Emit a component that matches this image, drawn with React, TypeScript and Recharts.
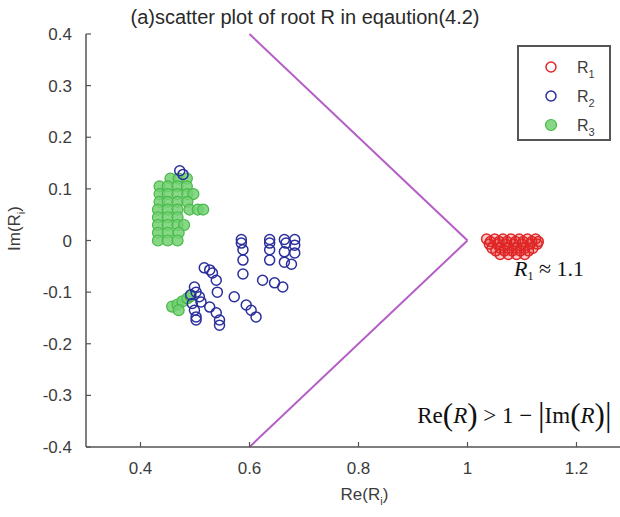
import React from "react";
import {
  ScatterChart,
  Scatter,
  XAxis,
  YAxis,
  ReferenceLine,
  ReferenceDot,
  Legend,
} from "recharts";

const SANS = '"Liberation Sans", Arial, sans-serif';
const SERIF = '"Liberation Serif", "Times New Roman", serif';

const xTicks = [0.4, 0.6, 0.8, 1, 1.2];
const yTicks = [-0.4, -0.3, -0.2, -0.1, 0, 0.1, 0.2, 0.3, 0.4];

// R1 (red)
const r1Re = [
  1.035, 1.05, 1.065, 1.08, 1.095, 1.11, 1.125,
  1.042, 1.058, 1.072, 1.088, 1.102, 1.118, 1.13,
  1.04, 1.055, 1.07, 1.085, 1.1, 1.115, 1.128,
  1.045, 1.06, 1.075, 1.09, 1.105, 1.12,
  1.052, 1.068, 1.082, 1.097, 1.112,
  1.06, 1.075, 1.09, 1.105,
];
const r1Im = [
  0.003, 0.003, 0.003, 0.003, 0.003, 0.003, 0.003,
  -0.002, -0.002, -0.002, -0.002, -0.002, -0.002, -0.002,
  -0.007, -0.007, -0.007, -0.007, -0.007, -0.007, -0.007,
  -0.015, -0.015, -0.015, -0.015, -0.015, -0.015,
  -0.02, -0.02, -0.02, -0.02, -0.02,
  -0.027, -0.027, -0.027, -0.027,
];

// R2 (blue)
const r2Re = [
  0.472, 0.478,
  0.585, 0.585, 0.588, 0.588, 0.588,
  0.637, 0.637, 0.637, 0.637,
  0.664, 0.667, 0.664, 0.664, 0.677,
  0.683, 0.683, 0.683,
  0.624, 0.646, 0.661,
  0.572, 0.594, 0.603, 0.612,
  0.517, 0.527, 0.532, 0.539, 0.541,
  0.499, 0.502, 0.508, 0.511,
  0.499, 0.502, 0.502,
  0.527, 0.539, 0.545, 0.545,
  0.492, 0.495,
];
const r2Im = [
  0.135, 0.128,
  0.002, -0.005, -0.018, -0.038, -0.065,
  0.002, -0.005, -0.018, -0.038,
  0.002, -0.005, -0.022, -0.042, -0.046,
  0.002, -0.009, -0.024,
  -0.077, -0.082, -0.09,
  -0.109, -0.125, -0.135, -0.148,
  -0.053, -0.057, -0.063, -0.077, -0.1,
  -0.09, -0.1, -0.109, -0.119,
  -0.135, -0.148, -0.154,
  -0.129, -0.14, -0.154, -0.164,
  -0.105, -0.122,
];

// R3 (green)
const r3Re = [
  0.455, 0.47, 0.485,
  0.435, 0.45, 0.468, 0.485,
  0.435, 0.45, 0.468, 0.486, 0.497,
  0.435, 0.45, 0.468, 0.486,
  0.432, 0.45, 0.468, 0.49, 0.505, 0.515,
  0.432, 0.45, 0.468,
  0.432, 0.45, 0.468, 0.48,
  0.432, 0.45, 0.47,
  0.432, 0.45, 0.468,
  0.458, 0.468, 0.477, 0.486, 0.492, 0.47,
];
const r3Im = [
  0.12, 0.12, 0.12,
  0.105, 0.105, 0.105, 0.105,
  0.09, 0.09, 0.09, 0.09, 0.09,
  0.075, 0.075, 0.075, 0.075,
  0.06, 0.06, 0.06, 0.06, 0.06, 0.06,
  0.045, 0.045, 0.045,
  0.03, 0.03, 0.03, 0.03,
  0.015, 0.015, 0.015,
  0, 0, 0,
  -0.128, -0.124, -0.118, -0.112, -0.108, -0.135,
];

// boundary Re(R) = 1 - |Im(R)|
const boundaryRe = [0.6, 1, 0.6];
const boundaryIm = [0.4, 0, -0.4];

const seriesNames = ["R1", "R2", "R3"];

const toPoints = (xs: number[], ys: number[]) => xs.map((x, i) => ({ x, y: ys[i] }));
const r1 = toPoints(r1Re, r1Im);
const r2 = toPoints(r2Re, r2Im);
const r3 = toPoints(r3Re, r3Im);

const RED = "#e02626";
const BLUE = "#2a2f9c";
const GREEN = "#47b847";
const GREEN_FILL = "#72d072";
const AXIS = "#555";
const TEXT = "#3c3c3c";

const hollow = (color: string) => (p: any) => (
  <circle cx={p.cx} cy={p.cy} r={5} fill="none" stroke={color} strokeWidth={1.5} />
);
const redDot = (p: any) => (
  <circle cx={p.cx} cy={p.cy} r={5} fill={RED} fillOpacity={0.25} stroke={RED} strokeWidth={1.5} />
);
const filled = (p: any) => (
  <circle cx={p.cx} cy={p.cy} r={5.5} fill={GREEN_FILL} fillOpacity={0.85} stroke={GREEN} strokeWidth={1.2} />
);

const XTick = ({ x, y, payload }: any) => (
  <g>
    <line x1={x} x2={x} y1={y} y2={y - 5} stroke={AXIS} strokeWidth={1.2} />
    <text x={x} y={y + 27} textAnchor="middle" fontSize={17} fill={TEXT} fontFamily={SANS}>
      {payload.value}
    </text>
  </g>
);

const YTick = ({ x, y, payload }: any) => (
  <g>
    <line x1={x} x2={x + 5} y1={y} y2={y} stroke={AXIS} strokeWidth={1.2} />
    <text x={x - 14} y={y + 6} textAnchor="end" fontSize={17} fill={TEXT} fontFamily={SANS}>
      {payload.value}
    </text>
  </g>
);

const XLabel = (props: any) => {
  const vb = props.viewBox;
  return (
    <text x={vb.x + vb.width / 2 + 6} y={vb.y + 53} textAnchor="middle" fontSize={17} fill={TEXT} fontFamily={SANS}>
      <tspan>Re(R</tspan>
      <tspan dy={5} fontSize={11}>i</tspan>
      <tspan dy={-5}>)</tspan>
    </text>
  );
};

const YLabel = (props: any) => {
  const vb = props.viewBox;
  const cx = vb.x - 6;
  const cy = vb.y + vb.height / 2 - 12;
  return (
    <text x={cx} y={cy} transform={`rotate(-90 ${cx} ${cy})`} textAnchor="middle" fontSize={17} fill={TEXT} fontFamily={SANS}>
      <tspan>Im(R</tspan>
      <tspan dy={5} fontSize={11}>i</tspan>
      <tspan dy={-5}>)</tspan>
    </text>
  );
};

const LegendBox = () => {
  const marks = [hollow(RED), hollow(BLUE), filled];
  return (
    <svg width={94} height={96} style={{ display: "block" }}>
      <rect x={1} y={1} width={92} height={94} fill="#fff" stroke={AXIS} strokeWidth={2} />
      {seriesNames.map((name, i) => (
        <g key={name}>
          {marks[i]({ cx: 34, cy: 22 + i * 29 })}
          <text x={60} y={22 + i * 29 + 6} fontSize={16} fill={TEXT} fontFamily={SANS}>
            {name.slice(0, 1)}
            <tspan dy={5} fontSize={11}>{name.slice(1)}</tspan>
          </text>
        </g>
      ))}
    </svg>
  );
};

const ApproxNote = (p: any) => (
  <text x={p.cx - 8} y={p.cy + 2} fontSize={22} fill="#111" fontFamily={SERIF}>
    <tspan fontStyle="italic">R</tspan>
    <tspan dy={4} fontSize={12}>1</tspan>
    <tspan dy={-4}> ≈ 1.1</tspan>
  </text>
);

const RegionNote = (p: any) => (
  <text x={p.cx + 35} y={p.cy + 2} textAnchor="end" fontSize={23} fill="#111" fontFamily={SERIF}>
    <tspan>Re</tspan>
    <tspan fontSize={31} dy={2}>(</tspan>
    <tspan fontStyle="italic" dy={-2}>R</tspan>
    <tspan fontSize={31} dy={2}>)</tspan>
    <tspan dy={-2}> &gt; 1 − </tspan>
    <tspan fontSize={33} dy={3}>|</tspan>
    <tspan dy={-3}>Im</tspan>
    <tspan fontSize={31} dy={2}>(</tspan>
    <tspan fontStyle="italic" dy={-2}>R</tspan>
    <tspan fontSize={31} dy={2}>)</tspan>
    <tspan fontSize={33} dy={1}>|</tspan>
  </text>
);

const App = () => {
  return (
    <div
      style={{
        position: "absolute",
        left: 0,
        top: 0,
        width: 620,
        height: 517,
        overflow: "hidden",
        background: "#fff",
      }}
    >
      <div
        style={{
          position: "absolute",
          left: 0,
          width: 610,
          top: 6,
          textAlign: "center",
          fontFamily: SANS,
          fontSize: 20,
          color: "#2a2a2a",
          zIndex: 2,
        }}
      >
        (a)scatter plot of root R in eqaution(4.2)
      </div>
      <ScatterChart width={660} height={517} margin={{ top: 34, right: 29, bottom: 30, left: 26 }}>
        <XAxis
          type="number"
          dataKey="x"
          domain={[0.3, 1.3]}
          ticks={xTicks}
          tickSize={0}
          tickMargin={0}
          tick={<XTick />}
          height={40}
          axisLine={{ stroke: AXIS, strokeWidth: 1.5 }}
          allowDataOverflow
          label={<XLabel />}
        />
        <YAxis
          type="number"
          dataKey="y"
          domain={[-0.4, 0.4]}
          ticks={yTicks}
          tickSize={0}
          tickMargin={0}
          tick={<YTick />}
          width={60}
          axisLine={{ stroke: AXIS, strokeWidth: 1.5 }}
          allowDataOverflow
          label={<YLabel />}
        />
        <ReferenceLine
          segment={[
            { x: boundaryRe[0], y: boundaryIm[0] },
            { x: boundaryRe[1], y: boundaryIm[1] },
          ]}
          stroke="#b55ec6"
          strokeWidth={2}
        />
        <ReferenceLine
          segment={[
            { x: boundaryRe[1], y: boundaryIm[1] },
            { x: boundaryRe[2], y: boundaryIm[2] },
          ]}
          stroke="#b55ec6"
          strokeWidth={2}
        />
        <Scatter name="R1" data={r1} shape={redDot} isAnimationActive={false} />
        <Scatter name="R3" data={r3} shape={filled} isAnimationActive={false} />
        <Scatter name="R2" data={r2} shape={hollow(BLUE)} isAnimationActive={false} />
        <ReferenceDot x={1.1} y={-0.065} r={0} shape={ApproxNote} />
        <ReferenceDot x={1.2} y={-0.35} r={0} shape={RegionNote} />
        <Legend
          layout="horizontal"
          verticalAlign="middle"
          align="center"
          content={<LegendBox />}
          wrapperStyle={{ left: 517, top: 45, right: "auto", bottom: "auto", width: 94, height: 96 }}
        />
      </ScatterChart>
    </div>
  );
};

export default App;
